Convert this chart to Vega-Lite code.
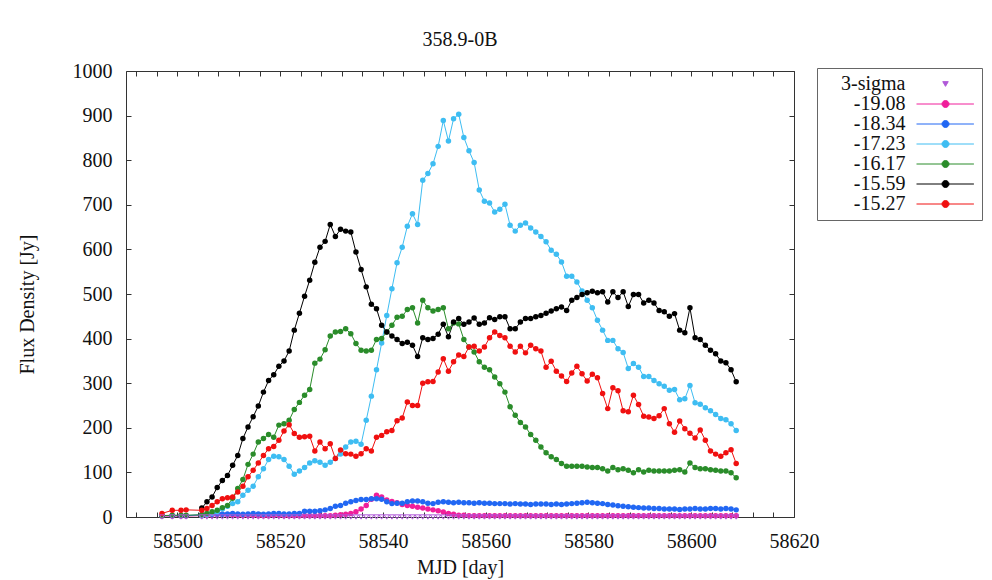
{
"$schema":"https://vega.github.io/schema/vega-lite/v6.json",
"width":668,"height":446,
"autosize":{"type":"none"},
"padding":{"left":126,"top":71,"right":198,"bottom":63},
"background":"white",
"title":{"text":"358.9-0B","font":"Liberation Serif","fontSize":20,"fontWeight":"normal","color":"#111","offset":-9,"anchor":"middle","frame":"group","baseline":"bottom"},
"config":{
 "view":{"stroke":"#333","strokeWidth":1},
 "axis":{"labelFont":"Liberation Serif","titleFont":"Liberation Serif","labelFontSize":20,"titleFontSize":20,"titleFontWeight":"normal","labelColor":"#111","titleColor":"#111","grid":false,"domain":false,"tickColor":"#333","tickSize":-5,"tickWidth":1,"labelOverlap":false,"labelFlush":false}
},
"data":{"values":[
{"s":"3-sigma","x":58497,"y":0},{"s":"3-sigma","x":58499,"y":0},{"s":"3-sigma","x":58500.7,"y":0},{"s":"3-sigma","x":58501.7,"y":0},
{"s":"3-sigma","x":58504.75,"y":0},{"s":"3-sigma","x":58505.75,"y":0},{"s":"3-sigma","x":58506.75,"y":0},{"s":"3-sigma","x":58507.75,"y":0},{"s":"3-sigma","x":58508.75,"y":0},{"s":"3-sigma","x":58509.75,"y":0},{"s":"3-sigma","x":58510.75,"y":0},{"s":"3-sigma","x":58511.75,"y":0},{"s":"3-sigma","x":58512.75,"y":0},{"s":"3-sigma","x":58513.75,"y":0},
{"s":"3-sigma","x":58514.75,"y":0},{"s":"3-sigma","x":58515.75,"y":0},{"s":"3-sigma","x":58516.75,"y":0},{"s":"3-sigma","x":58517.75,"y":0},{"s":"3-sigma","x":58518.75,"y":0},{"s":"3-sigma","x":58519.75,"y":0},{"s":"3-sigma","x":58520.75,"y":0},{"s":"3-sigma","x":58521.75,"y":0},{"s":"3-sigma","x":58522.75,"y":0},{"s":"3-sigma","x":58523.75,"y":0},
{"s":"3-sigma","x":58524.75,"y":0},{"s":"3-sigma","x":58525.75,"y":0},{"s":"3-sigma","x":58526.75,"y":0},{"s":"3-sigma","x":58527.75,"y":0},{"s":"3-sigma","x":58528.75,"y":0},{"s":"3-sigma","x":58529.75,"y":0},{"s":"3-sigma","x":58530.75,"y":0},{"s":"3-sigma","x":58531.75,"y":0},{"s":"3-sigma","x":58532.75,"y":0},{"s":"3-sigma","x":58533.75,"y":0},
{"s":"3-sigma","x":58534.75,"y":0},{"s":"3-sigma","x":58535.75,"y":0},{"s":"3-sigma","x":58536.75,"y":0},{"s":"3-sigma","x":58537.75,"y":0},{"s":"3-sigma","x":58538.75,"y":0},{"s":"3-sigma","x":58539.75,"y":0},{"s":"3-sigma","x":58540.75,"y":0},{"s":"3-sigma","x":58541.75,"y":0},{"s":"3-sigma","x":58542.75,"y":0},{"s":"3-sigma","x":58543.75,"y":0},
{"s":"3-sigma","x":58544.75,"y":0},{"s":"3-sigma","x":58545.75,"y":0},{"s":"3-sigma","x":58546.75,"y":0},{"s":"3-sigma","x":58547.75,"y":0},{"s":"3-sigma","x":58548.75,"y":0},{"s":"3-sigma","x":58549.75,"y":0},{"s":"3-sigma","x":58550.75,"y":0},{"s":"3-sigma","x":58551.75,"y":0},{"s":"3-sigma","x":58552.75,"y":0},{"s":"3-sigma","x":58553.75,"y":0},
{"s":"3-sigma","x":58554.75,"y":0},{"s":"3-sigma","x":58555.75,"y":0},{"s":"3-sigma","x":58556.75,"y":0},{"s":"3-sigma","x":58557.75,"y":0},{"s":"3-sigma","x":58558.75,"y":0},{"s":"3-sigma","x":58559.75,"y":0},{"s":"3-sigma","x":58560.75,"y":0},{"s":"3-sigma","x":58561.75,"y":0},{"s":"3-sigma","x":58562.75,"y":0},{"s":"3-sigma","x":58563.75,"y":0},
{"s":"3-sigma","x":58564.75,"y":0},{"s":"3-sigma","x":58565.75,"y":0},{"s":"3-sigma","x":58566.75,"y":0},{"s":"3-sigma","x":58567.75,"y":0},{"s":"3-sigma","x":58568.75,"y":0},{"s":"3-sigma","x":58569.75,"y":0},{"s":"3-sigma","x":58570.75,"y":0},{"s":"3-sigma","x":58571.75,"y":0},{"s":"3-sigma","x":58572.75,"y":0},{"s":"3-sigma","x":58573.75,"y":0},
{"s":"3-sigma","x":58574.75,"y":0},{"s":"3-sigma","x":58575.75,"y":0},{"s":"3-sigma","x":58576.75,"y":0},{"s":"3-sigma","x":58577.75,"y":0},{"s":"3-sigma","x":58578.75,"y":0},{"s":"3-sigma","x":58579.75,"y":0},{"s":"3-sigma","x":58580.75,"y":0},{"s":"3-sigma","x":58581.75,"y":0},{"s":"3-sigma","x":58582.75,"y":0},{"s":"3-sigma","x":58583.75,"y":0},
{"s":"3-sigma","x":58584.75,"y":0},{"s":"3-sigma","x":58585.75,"y":0},{"s":"3-sigma","x":58586.75,"y":0},{"s":"3-sigma","x":58587.75,"y":0},{"s":"3-sigma","x":58588.75,"y":0},{"s":"3-sigma","x":58589.75,"y":0},{"s":"3-sigma","x":58590.75,"y":0},{"s":"3-sigma","x":58591.75,"y":0},{"s":"3-sigma","x":58592.75,"y":0},{"s":"3-sigma","x":58593.75,"y":0},
{"s":"3-sigma","x":58594.75,"y":0},{"s":"3-sigma","x":58595.75,"y":0},{"s":"3-sigma","x":58596.75,"y":0},{"s":"3-sigma","x":58597.75,"y":0},{"s":"3-sigma","x":58598.75,"y":0},{"s":"3-sigma","x":58599.75,"y":0},{"s":"3-sigma","x":58600.75,"y":0},{"s":"3-sigma","x":58601.75,"y":0},{"s":"3-sigma","x":58602.75,"y":0},{"s":"3-sigma","x":58603.75,"y":0},
{"s":"3-sigma","x":58604.75,"y":0},{"s":"3-sigma","x":58605.75,"y":0},{"s":"3-sigma","x":58606.75,"y":0},{"s":"3-sigma","x":58607.75,"y":0},{"s":"3-sigma","x":58608.75,"y":0},

{"s":"-19.08","x":58497,"y":2},{"s":"-19.08","x":58499,"y":2},{"s":"-19.08","x":58500.7,"y":2},{"s":"-19.08","x":58501.7,"y":2},
{"s":"-19.08","x":58504.75,"y":3},{"s":"-19.08","x":58505.75,"y":4},{"s":"-19.08","x":58506.75,"y":5},{"s":"-19.08","x":58507.75,"y":6},{"s":"-19.08","x":58508.75,"y":6},{"s":"-19.08","x":58509.75,"y":5},{"s":"-19.08","x":58510.75,"y":5},{"s":"-19.08","x":58511.75,"y":4},{"s":"-19.08","x":58512.75,"y":4},{"s":"-19.08","x":58513.75,"y":4},
{"s":"-19.08","x":58514.75,"y":4},{"s":"-19.08","x":58515.75,"y":3},{"s":"-19.08","x":58516.75,"y":3},{"s":"-19.08","x":58517.75,"y":3},{"s":"-19.08","x":58518.75,"y":4},{"s":"-19.08","x":58519.75,"y":4},{"s":"-19.08","x":58520.75,"y":3},{"s":"-19.08","x":58521.75,"y":3},{"s":"-19.08","x":58522.75,"y":3},{"s":"-19.08","x":58523.75,"y":3},
{"s":"-19.08","x":58524.75,"y":3},{"s":"-19.08","x":58525.75,"y":3},{"s":"-19.08","x":58526.75,"y":3},{"s":"-19.08","x":58527.75,"y":3},{"s":"-19.08","x":58528.75,"y":3},{"s":"-19.08","x":58529.75,"y":3},{"s":"-19.08","x":58530.75,"y":4},{"s":"-19.08","x":58531.75,"y":5},{"s":"-19.08","x":58532.75,"y":6},{"s":"-19.08","x":58533.75,"y":8},
{"s":"-19.08","x":58534.75,"y":12},{"s":"-19.08","x":58535.75,"y":18},{"s":"-19.08","x":58536.75,"y":26},{"s":"-19.08","x":58537.75,"y":40},{"s":"-19.08","x":58538.75,"y":49},{"s":"-19.08","x":58539.75,"y":45},{"s":"-19.08","x":58540.75,"y":38},{"s":"-19.08","x":58541.75,"y":35},{"s":"-19.08","x":58542.75,"y":32},{"s":"-19.08","x":58543.75,"y":28},
{"s":"-19.08","x":58544.75,"y":26},{"s":"-19.08","x":58545.75,"y":24},{"s":"-19.08","x":58546.75,"y":22},{"s":"-19.08","x":58547.75,"y":20},{"s":"-19.08","x":58548.75,"y":18},{"s":"-19.08","x":58549.75,"y":16},{"s":"-19.08","x":58550.75,"y":14},{"s":"-19.08","x":58551.75,"y":11},{"s":"-19.08","x":58552.75,"y":8},{"s":"-19.08","x":58553.75,"y":6},
{"s":"-19.08","x":58554.75,"y":4},{"s":"-19.08","x":58555.75,"y":4},{"s":"-19.08","x":58556.75,"y":3},{"s":"-19.08","x":58557.75,"y":3},{"s":"-19.08","x":58558.75,"y":3},{"s":"-19.08","x":58559.75,"y":3},{"s":"-19.08","x":58560.75,"y":3},{"s":"-19.08","x":58561.75,"y":3},{"s":"-19.08","x":58562.75,"y":3},{"s":"-19.08","x":58563.75,"y":3},
{"s":"-19.08","x":58564.75,"y":3},{"s":"-19.08","x":58565.75,"y":3},{"s":"-19.08","x":58566.75,"y":3},{"s":"-19.08","x":58567.75,"y":3},{"s":"-19.08","x":58568.75,"y":3},{"s":"-19.08","x":58569.75,"y":3},{"s":"-19.08","x":58570.75,"y":3},{"s":"-19.08","x":58571.75,"y":3},{"s":"-19.08","x":58572.75,"y":3},{"s":"-19.08","x":58573.75,"y":3},
{"s":"-19.08","x":58574.75,"y":3},{"s":"-19.08","x":58575.75,"y":3},{"s":"-19.08","x":58576.75,"y":3},{"s":"-19.08","x":58577.75,"y":3},{"s":"-19.08","x":58578.75,"y":3},{"s":"-19.08","x":58579.75,"y":3},{"s":"-19.08","x":58580.75,"y":3},{"s":"-19.08","x":58581.75,"y":3},{"s":"-19.08","x":58582.75,"y":3},{"s":"-19.08","x":58583.75,"y":3},
{"s":"-19.08","x":58584.75,"y":3},{"s":"-19.08","x":58585.75,"y":3},{"s":"-19.08","x":58586.75,"y":3},{"s":"-19.08","x":58587.75,"y":3},{"s":"-19.08","x":58588.75,"y":3},{"s":"-19.08","x":58589.75,"y":3},{"s":"-19.08","x":58590.75,"y":3},{"s":"-19.08","x":58591.75,"y":3},{"s":"-19.08","x":58592.75,"y":3},{"s":"-19.08","x":58593.75,"y":3},
{"s":"-19.08","x":58594.75,"y":3},{"s":"-19.08","x":58595.75,"y":3},{"s":"-19.08","x":58596.75,"y":3},{"s":"-19.08","x":58597.75,"y":3},{"s":"-19.08","x":58598.75,"y":3},{"s":"-19.08","x":58599.75,"y":3},{"s":"-19.08","x":58600.75,"y":3},{"s":"-19.08","x":58601.75,"y":3},{"s":"-19.08","x":58602.75,"y":3},{"s":"-19.08","x":58603.75,"y":3},
{"s":"-19.08","x":58604.75,"y":3},{"s":"-19.08","x":58605.75,"y":3},{"s":"-19.08","x":58606.75,"y":3},{"s":"-19.08","x":58607.75,"y":3},{"s":"-19.08","x":58608.75,"y":3},

{"s":"-18.34","x":58497,"y":3},{"s":"-18.34","x":58499,"y":3},{"s":"-18.34","x":58500.7,"y":3},{"s":"-18.34","x":58501.7,"y":3},
{"s":"-18.34","x":58504.75,"y":5},{"s":"-18.34","x":58505.75,"y":6},{"s":"-18.34","x":58506.75,"y":6},{"s":"-18.34","x":58507.75,"y":7},{"s":"-18.34","x":58508.75,"y":6},{"s":"-18.34","x":58509.75,"y":7},{"s":"-18.34","x":58510.75,"y":8},{"s":"-18.34","x":58511.75,"y":7},{"s":"-18.34","x":58512.75,"y":6},{"s":"-18.34","x":58513.75,"y":7},
{"s":"-18.34","x":58514.75,"y":8},{"s":"-18.34","x":58515.75,"y":7},{"s":"-18.34","x":58516.75,"y":6},{"s":"-18.34","x":58517.75,"y":7},{"s":"-18.34","x":58518.75,"y":8},{"s":"-18.34","x":58519.75,"y":8},{"s":"-18.34","x":58520.75,"y":7},{"s":"-18.34","x":58521.75,"y":7},{"s":"-18.34","x":58522.75,"y":8},{"s":"-18.34","x":58523.75,"y":8},
{"s":"-18.34","x":58524.75,"y":13},{"s":"-18.34","x":58525.75,"y":13},{"s":"-18.34","x":58526.75,"y":13},{"s":"-18.34","x":58527.75,"y":14},{"s":"-18.34","x":58528.75,"y":16},{"s":"-18.34","x":58529.75,"y":19},{"s":"-18.34","x":58530.75,"y":24},{"s":"-18.34","x":58531.75,"y":26},{"s":"-18.34","x":58532.75,"y":31},{"s":"-18.34","x":58533.75,"y":34},
{"s":"-18.34","x":58534.75,"y":37},{"s":"-18.34","x":58535.75,"y":39},{"s":"-18.34","x":58536.75,"y":39},{"s":"-18.34","x":58537.75,"y":41},{"s":"-18.34","x":58538.75,"y":41},{"s":"-18.34","x":58539.75,"y":40},{"s":"-18.34","x":58540.75,"y":34},{"s":"-18.34","x":58541.75,"y":30},{"s":"-18.34","x":58542.75,"y":31},{"s":"-18.34","x":58543.75,"y":31},
{"s":"-18.34","x":58544.75,"y":34},{"s":"-18.34","x":58545.75,"y":36},{"s":"-18.34","x":58546.75,"y":36},{"s":"-18.34","x":58547.75,"y":34},{"s":"-18.34","x":58548.75,"y":31},{"s":"-18.34","x":58549.75,"y":30},{"s":"-18.34","x":58550.75,"y":33},{"s":"-18.34","x":58551.75,"y":34},{"s":"-18.34","x":58552.75,"y":33},{"s":"-18.34","x":58553.75,"y":32},
{"s":"-18.34","x":58554.75,"y":33},{"s":"-18.34","x":58555.75,"y":32},{"s":"-18.34","x":58556.75,"y":32},{"s":"-18.34","x":58557.75,"y":31},{"s":"-18.34","x":58558.75,"y":32},{"s":"-18.34","x":58559.75,"y":31},{"s":"-18.34","x":58560.75,"y":31},{"s":"-18.34","x":58561.75,"y":30},{"s":"-18.34","x":58562.75,"y":30},{"s":"-18.34","x":58563.75,"y":30},
{"s":"-18.34","x":58564.75,"y":29},{"s":"-18.34","x":58565.75,"y":30},{"s":"-18.34","x":58566.75,"y":29},{"s":"-18.34","x":58567.75,"y":29},{"s":"-18.34","x":58568.75,"y":28},{"s":"-18.34","x":58569.75,"y":29},{"s":"-18.34","x":58570.75,"y":29},{"s":"-18.34","x":58571.75,"y":29},{"s":"-18.34","x":58572.75,"y":28},{"s":"-18.34","x":58573.75,"y":29},
{"s":"-18.34","x":58574.75,"y":28},{"s":"-18.34","x":58575.75,"y":29},{"s":"-18.34","x":58576.75,"y":30},{"s":"-18.34","x":58577.75,"y":31},{"s":"-18.34","x":58578.75,"y":32},{"s":"-18.34","x":58579.75,"y":33},{"s":"-18.34","x":58580.75,"y":32},{"s":"-18.34","x":58581.75,"y":31},{"s":"-18.34","x":58582.75,"y":30},{"s":"-18.34","x":58583.75,"y":28},
{"s":"-18.34","x":58584.75,"y":27},{"s":"-18.34","x":58585.75,"y":25},{"s":"-18.34","x":58586.75,"y":24},{"s":"-18.34","x":58587.75,"y":23},{"s":"-18.34","x":58588.75,"y":22},{"s":"-18.34","x":58589.75,"y":21},{"s":"-18.34","x":58590.75,"y":20},{"s":"-18.34","x":58591.75,"y":20},{"s":"-18.34","x":58592.75,"y":19},{"s":"-18.34","x":58593.75,"y":19},
{"s":"-18.34","x":58594.75,"y":18},{"s":"-18.34","x":58595.75,"y":18},{"s":"-18.34","x":58596.75,"y":18},{"s":"-18.34","x":58597.75,"y":17},{"s":"-18.34","x":58598.75,"y":18},{"s":"-18.34","x":58599.75,"y":18},{"s":"-18.34","x":58600.75,"y":19},{"s":"-18.34","x":58601.75,"y":18},{"s":"-18.34","x":58602.75,"y":18},{"s":"-18.34","x":58603.75,"y":19},
{"s":"-18.34","x":58604.75,"y":19},{"s":"-18.34","x":58605.75,"y":18},{"s":"-18.34","x":58606.75,"y":19},{"s":"-18.34","x":58607.75,"y":18},{"s":"-18.34","x":58608.75,"y":16},

{"s":"-17.23","x":58504.75,"y":3},{"s":"-17.23","x":58505.75,"y":5},{"s":"-17.23","x":58506.75,"y":8},{"s":"-17.23","x":58507.75,"y":12},{"s":"-17.23","x":58508.75,"y":18},{"s":"-17.23","x":58509.75,"y":24},{"s":"-17.23","x":58510.75,"y":30},{"s":"-17.23","x":58511.75,"y":34},{"s":"-17.23","x":58512.75,"y":49},{"s":"-17.23","x":58513.75,"y":60},
{"s":"-17.23","x":58514.75,"y":69},{"s":"-17.23","x":58515.75,"y":90},{"s":"-17.23","x":58516.75,"y":108},{"s":"-17.23","x":58517.75,"y":129},{"s":"-17.23","x":58518.75,"y":136},{"s":"-17.23","x":58519.75,"y":135},{"s":"-17.23","x":58520.75,"y":129},{"s":"-17.23","x":58521.75,"y":114},{"s":"-17.23","x":58522.75,"y":96},{"s":"-17.23","x":58523.75,"y":103},
{"s":"-17.23","x":58524.75,"y":111},{"s":"-17.23","x":58525.75,"y":121},{"s":"-17.23","x":58526.75,"y":126},{"s":"-17.23","x":58527.75,"y":123},{"s":"-17.23","x":58528.75,"y":116},{"s":"-17.23","x":58529.75,"y":123},{"s":"-17.23","x":58530.75,"y":131},{"s":"-17.23","x":58531.75,"y":141},{"s":"-17.23","x":58532.75,"y":157},{"s":"-17.23","x":58533.75,"y":168},
{"s":"-17.23","x":58534.75,"y":170},{"s":"-17.23","x":58535.75,"y":163},{"s":"-17.23","x":58536.75,"y":217},{"s":"-17.23","x":58537.75,"y":271},{"s":"-17.23","x":58538.75,"y":330},{"s":"-17.23","x":58539.75,"y":390},{"s":"-17.23","x":58540.75,"y":452},{"s":"-17.23","x":58541.75,"y":512},{"s":"-17.23","x":58542.75,"y":570},{"s":"-17.23","x":58543.75,"y":605},
{"s":"-17.23","x":58544.75,"y":652},{"s":"-17.23","x":58545.75,"y":680},{"s":"-17.23","x":58546.75,"y":656},{"s":"-17.23","x":58547.75,"y":755},{"s":"-17.23","x":58548.75,"y":770},{"s":"-17.23","x":58549.75,"y":792},{"s":"-17.23","x":58550.75,"y":831},{"s":"-17.23","x":58551.75,"y":889},{"s":"-17.23","x":58552.75,"y":843},{"s":"-17.23","x":58553.75,"y":893},
{"s":"-17.23","x":58554.75,"y":903},{"s":"-17.23","x":58555.75,"y":851},{"s":"-17.23","x":58556.75,"y":821},{"s":"-17.23","x":58557.75,"y":795},{"s":"-17.23","x":58558.75,"y":733},{"s":"-17.23","x":58559.75,"y":708},{"s":"-17.23","x":58560.75,"y":704},{"s":"-17.23","x":58561.75,"y":684},{"s":"-17.23","x":58562.75,"y":690},{"s":"-17.23","x":58563.75,"y":701},
{"s":"-17.23","x":58564.75,"y":654},{"s":"-17.23","x":58565.75,"y":641},{"s":"-17.23","x":58566.75,"y":654},{"s":"-17.23","x":58567.75,"y":659},{"s":"-17.23","x":58568.75,"y":648},{"s":"-17.23","x":58569.75,"y":639},{"s":"-17.23","x":58570.75,"y":629},{"s":"-17.23","x":58571.75,"y":617},{"s":"-17.23","x":58572.75,"y":598},{"s":"-17.23","x":58573.75,"y":589},
{"s":"-17.23","x":58574.75,"y":572},{"s":"-17.23","x":58575.75,"y":540},{"s":"-17.23","x":58576.75,"y":540},{"s":"-17.23","x":58577.75,"y":527},{"s":"-17.23","x":58578.75,"y":507},{"s":"-17.23","x":58579.75,"y":486},{"s":"-17.23","x":58580.75,"y":469},{"s":"-17.23","x":58581.75,"y":441},{"s":"-17.23","x":58582.75,"y":419},{"s":"-17.23","x":58583.75,"y":396},
{"s":"-17.23","x":58584.75,"y":396},{"s":"-17.23","x":58585.75,"y":377},{"s":"-17.23","x":58586.75,"y":369},{"s":"-17.23","x":58587.75,"y":333},{"s":"-17.23","x":58588.75,"y":344},{"s":"-17.23","x":58589.75,"y":336},{"s":"-17.23","x":58590.75,"y":315},{"s":"-17.23","x":58591.75,"y":315},{"s":"-17.23","x":58592.75,"y":306},{"s":"-17.23","x":58593.75,"y":299},
{"s":"-17.23","x":58594.75,"y":293},{"s":"-17.23","x":58595.75,"y":284},{"s":"-17.23","x":58596.75,"y":286},{"s":"-17.23","x":58597.75,"y":263},{"s":"-17.23","x":58598.75,"y":265},{"s":"-17.23","x":58599.75,"y":295},{"s":"-17.23","x":58600.75,"y":256},{"s":"-17.23","x":58601.75,"y":253},{"s":"-17.23","x":58602.75,"y":245},{"s":"-17.23","x":58603.75,"y":238},
{"s":"-17.23","x":58604.75,"y":230},{"s":"-17.23","x":58605.75,"y":221},{"s":"-17.23","x":58606.75,"y":218},{"s":"-17.23","x":58607.75,"y":209},{"s":"-17.23","x":58608.75,"y":194},

{"s":"-16.17","x":58497,"y":3},{"s":"-16.17","x":58499,"y":4},{"s":"-16.17","x":58500.7,"y":4},{"s":"-16.17","x":58501.7,"y":4},
{"s":"-16.17","x":58504.75,"y":5},{"s":"-16.17","x":58505.75,"y":8},{"s":"-16.17","x":58506.75,"y":12},{"s":"-16.17","x":58507.75,"y":15},{"s":"-16.17","x":58508.75,"y":21},{"s":"-16.17","x":58509.75,"y":26},{"s":"-16.17","x":58510.75,"y":42},{"s":"-16.17","x":58511.75,"y":64},{"s":"-16.17","x":58512.75,"y":84},{"s":"-16.17","x":58513.75,"y":118},
{"s":"-16.17","x":58514.75,"y":141},{"s":"-16.17","x":58515.75,"y":168},{"s":"-16.17","x":58516.75,"y":176},{"s":"-16.17","x":58517.75,"y":185},{"s":"-16.17","x":58518.75,"y":179},{"s":"-16.17","x":58519.75,"y":206},{"s":"-16.17","x":58520.75,"y":209},{"s":"-16.17","x":58521.75,"y":217},{"s":"-16.17","x":58522.75,"y":241},{"s":"-16.17","x":58523.75,"y":257},
{"s":"-16.17","x":58524.75,"y":273},{"s":"-16.17","x":58525.75,"y":286},{"s":"-16.17","x":58526.75,"y":345},{"s":"-16.17","x":58527.75,"y":354},{"s":"-16.17","x":58528.75,"y":375},{"s":"-16.17","x":58529.75,"y":406},{"s":"-16.17","x":58530.75,"y":415},{"s":"-16.17","x":58531.75,"y":416},{"s":"-16.17","x":58532.75,"y":422},{"s":"-16.17","x":58533.75,"y":411},
{"s":"-16.17","x":58534.75,"y":389},{"s":"-16.17","x":58535.75,"y":374},{"s":"-16.17","x":58536.75,"y":372},{"s":"-16.17","x":58537.75,"y":374},{"s":"-16.17","x":58538.75,"y":398},{"s":"-16.17","x":58539.75,"y":400},{"s":"-16.17","x":58540.75,"y":415},{"s":"-16.17","x":58541.75,"y":430},{"s":"-16.17","x":58542.75,"y":448},{"s":"-16.17","x":58543.75,"y":450},
{"s":"-16.17","x":58544.75,"y":465},{"s":"-16.17","x":58545.75,"y":469},{"s":"-16.17","x":58546.75,"y":435},{"s":"-16.17","x":58547.75,"y":486},{"s":"-16.17","x":58548.75,"y":469},{"s":"-16.17","x":58549.75,"y":462},{"s":"-16.17","x":58550.75,"y":465},{"s":"-16.17","x":58551.75,"y":469},{"s":"-16.17","x":58552.75,"y":422},{"s":"-16.17","x":58553.75,"y":435},
{"s":"-16.17","x":58554.75,"y":433},{"s":"-16.17","x":58555.75,"y":398},{"s":"-16.17","x":58556.75,"y":381},{"s":"-16.17","x":58557.75,"y":370},{"s":"-16.17","x":58558.75,"y":348},{"s":"-16.17","x":58559.75,"y":336},{"s":"-16.17","x":58560.75,"y":330},{"s":"-16.17","x":58561.75,"y":314},{"s":"-16.17","x":58562.75,"y":299},{"s":"-16.17","x":58563.75,"y":280},
{"s":"-16.17","x":58564.75,"y":247},{"s":"-16.17","x":58565.75,"y":228},{"s":"-16.17","x":58566.75,"y":212},{"s":"-16.17","x":58567.75,"y":202},{"s":"-16.17","x":58568.75,"y":185},{"s":"-16.17","x":58569.75,"y":172},{"s":"-16.17","x":58570.75,"y":157},{"s":"-16.17","x":58571.75,"y":144},{"s":"-16.17","x":58572.75,"y":135},{"s":"-16.17","x":58573.75,"y":129},
{"s":"-16.17","x":58574.75,"y":120},{"s":"-16.17","x":58575.75,"y":114},{"s":"-16.17","x":58576.75,"y":114},{"s":"-16.17","x":58577.75,"y":114},{"s":"-16.17","x":58578.75,"y":114},{"s":"-16.17","x":58579.75,"y":112},{"s":"-16.17","x":58580.75,"y":111},{"s":"-16.17","x":58581.75,"y":111},{"s":"-16.17","x":58582.75,"y":108},{"s":"-16.17","x":58583.75,"y":103},
{"s":"-16.17","x":58584.75,"y":111},{"s":"-16.17","x":58585.75,"y":106},{"s":"-16.17","x":58586.75,"y":108},{"s":"-16.17","x":58587.75,"y":105},{"s":"-16.17","x":58588.75,"y":99},{"s":"-16.17","x":58589.75,"y":106},{"s":"-16.17","x":58590.75,"y":101},{"s":"-16.17","x":58591.75,"y":105},{"s":"-16.17","x":58592.75,"y":103},{"s":"-16.17","x":58593.75,"y":103},
{"s":"-16.17","x":58594.75,"y":103},{"s":"-16.17","x":58595.75,"y":103},{"s":"-16.17","x":58596.75,"y":105},{"s":"-16.17","x":58597.75,"y":106},{"s":"-16.17","x":58598.75,"y":101},{"s":"-16.17","x":58599.75,"y":121},{"s":"-16.17","x":58600.75,"y":111},{"s":"-16.17","x":58601.75,"y":108},{"s":"-16.17","x":58602.75,"y":108},{"s":"-16.17","x":58603.75,"y":106},
{"s":"-16.17","x":58604.75,"y":105},{"s":"-16.17","x":58605.75,"y":103},{"s":"-16.17","x":58606.75,"y":103},{"s":"-16.17","x":58607.75,"y":99},{"s":"-16.17","x":58608.75,"y":88},

{"s":"-15.59","x":58504.75,"y":20},{"s":"-15.59","x":58505.75,"y":34},{"s":"-15.59","x":58506.75,"y":45},{"s":"-15.59","x":58507.75,"y":66},{"s":"-15.59","x":58508.75,"y":82},{"s":"-15.59","x":58509.75,"y":93},{"s":"-15.59","x":58510.75,"y":116},{"s":"-15.59","x":58511.75,"y":138},{"s":"-15.59","x":58512.75,"y":176},{"s":"-15.59","x":58513.75,"y":202},
{"s":"-15.59","x":58514.75,"y":225},{"s":"-15.59","x":58515.75,"y":249},{"s":"-15.59","x":58516.75,"y":280},{"s":"-15.59","x":58517.75,"y":306},{"s":"-15.59","x":58518.75,"y":319},{"s":"-15.59","x":58519.75,"y":338},{"s":"-15.59","x":58520.75,"y":350},{"s":"-15.59","x":58521.75,"y":372},{"s":"-15.59","x":58522.75,"y":419},{"s":"-15.59","x":58523.75,"y":457},
{"s":"-15.59","x":58524.75,"y":495},{"s":"-15.59","x":58525.75,"y":531},{"s":"-15.59","x":58526.75,"y":571},{"s":"-15.59","x":58527.75,"y":605},{"s":"-15.59","x":58528.75,"y":618},{"s":"-15.59","x":58529.75,"y":656},{"s":"-15.59","x":58530.75,"y":629},{"s":"-15.59","x":58531.75,"y":645},{"s":"-15.59","x":58532.75,"y":641},{"s":"-15.59","x":58533.75,"y":639},
{"s":"-15.59","x":58534.75,"y":594},{"s":"-15.59","x":58535.75,"y":555},{"s":"-15.59","x":58536.75,"y":516},{"s":"-15.59","x":58537.75,"y":477},{"s":"-15.59","x":58538.75,"y":467},{"s":"-15.59","x":58539.75,"y":430},{"s":"-15.59","x":58540.75,"y":415},{"s":"-15.59","x":58541.75,"y":406},{"s":"-15.59","x":58542.75,"y":398},{"s":"-15.59","x":58543.75,"y":389},
{"s":"-15.59","x":58544.75,"y":392},{"s":"-15.59","x":58545.75,"y":385},{"s":"-15.59","x":58546.75,"y":360},{"s":"-15.59","x":58547.75,"y":402},{"s":"-15.59","x":58548.75,"y":398},{"s":"-15.59","x":58549.75,"y":400},{"s":"-15.59","x":58550.75,"y":410},{"s":"-15.59","x":58551.75,"y":432},{"s":"-15.59","x":58552.75,"y":404},{"s":"-15.59","x":58553.75,"y":437},
{"s":"-15.59","x":58554.75,"y":445},{"s":"-15.59","x":58555.75,"y":432},{"s":"-15.59","x":58556.75,"y":437},{"s":"-15.59","x":58557.75,"y":446},{"s":"-15.59","x":58558.75,"y":432},{"s":"-15.59","x":58559.75,"y":435},{"s":"-15.59","x":58560.75,"y":447},{"s":"-15.59","x":58561.75,"y":443},{"s":"-15.59","x":58562.75,"y":449},{"s":"-15.59","x":58563.75,"y":449},
{"s":"-15.59","x":58564.75,"y":422},{"s":"-15.59","x":58565.75,"y":422},{"s":"-15.59","x":58566.75,"y":437},{"s":"-15.59","x":58567.75,"y":445},{"s":"-15.59","x":58568.75,"y":445},{"s":"-15.59","x":58569.75,"y":449},{"s":"-15.59","x":58570.75,"y":452},{"s":"-15.59","x":58571.75,"y":457},{"s":"-15.59","x":58572.75,"y":462},{"s":"-15.59","x":58573.75,"y":467},
{"s":"-15.59","x":58574.75,"y":471},{"s":"-15.59","x":58575.75,"y":463},{"s":"-15.59","x":58576.75,"y":486},{"s":"-15.59","x":58577.75,"y":492},{"s":"-15.59","x":58578.75,"y":499},{"s":"-15.59","x":58579.75,"y":503},{"s":"-15.59","x":58580.75,"y":506},{"s":"-15.59","x":58581.75,"y":503},{"s":"-15.59","x":58582.75,"y":505},{"s":"-15.59","x":58583.75,"y":482},
{"s":"-15.59","x":58584.75,"y":505},{"s":"-15.59","x":58585.75,"y":492},{"s":"-15.59","x":58586.75,"y":505},{"s":"-15.59","x":58587.75,"y":472},{"s":"-15.59","x":58588.75,"y":499},{"s":"-15.59","x":58589.75,"y":499},{"s":"-15.59","x":58590.75,"y":480},{"s":"-15.59","x":58591.75,"y":486},{"s":"-15.59","x":58592.75,"y":480},{"s":"-15.59","x":58593.75,"y":463},
{"s":"-15.59","x":58594.75,"y":460},{"s":"-15.59","x":58595.75,"y":450},{"s":"-15.59","x":58596.75,"y":456},{"s":"-15.59","x":58597.75,"y":419},{"s":"-15.59","x":58598.75,"y":413},{"s":"-15.59","x":58599.75,"y":469},{"s":"-15.59","x":58600.75,"y":402},{"s":"-15.59","x":58601.75,"y":398},{"s":"-15.59","x":58602.75,"y":385},{"s":"-15.59","x":58603.75,"y":374},
{"s":"-15.59","x":58604.75,"y":366},{"s":"-15.59","x":58605.75,"y":350},{"s":"-15.59","x":58606.75,"y":346},{"s":"-15.59","x":58607.75,"y":330},{"s":"-15.59","x":58608.75,"y":303},

{"s":"-15.27","x":58497,"y":8},{"s":"-15.27","x":58499,"y":15},{"s":"-15.27","x":58500.7,"y":15},{"s":"-15.27","x":58501.7,"y":16},
{"s":"-15.27","x":58504.75,"y":15},{"s":"-15.27","x":58505.75,"y":19},{"s":"-15.27","x":58506.75,"y":26},{"s":"-15.27","x":58507.75,"y":34},{"s":"-15.27","x":58508.75,"y":41},{"s":"-15.27","x":58509.75,"y":43},{"s":"-15.27","x":58510.75,"y":45},{"s":"-15.27","x":58511.75,"y":56},{"s":"-15.27","x":58512.75,"y":69},{"s":"-15.27","x":58513.75,"y":90},
{"s":"-15.27","x":58514.75,"y":105},{"s":"-15.27","x":58515.75,"y":121},{"s":"-15.27","x":58516.75,"y":138},{"s":"-15.27","x":58517.75,"y":153},{"s":"-15.27","x":58518.75,"y":158},{"s":"-15.27","x":58519.75,"y":172},{"s":"-15.27","x":58520.75,"y":193},{"s":"-15.27","x":58521.75,"y":207},{"s":"-15.27","x":58522.75,"y":187},{"s":"-15.27","x":58523.75,"y":179},
{"s":"-15.27","x":58524.75,"y":180},{"s":"-15.27","x":58525.75,"y":181},{"s":"-15.27","x":58526.75,"y":148},{"s":"-15.27","x":58527.75,"y":168},{"s":"-15.27","x":58528.75,"y":153},{"s":"-15.27","x":58529.75,"y":164},{"s":"-15.27","x":58530.75,"y":131},{"s":"-15.27","x":58531.75,"y":150},{"s":"-15.27","x":58532.75,"y":142},{"s":"-15.27","x":58533.75,"y":141},
{"s":"-15.27","x":58534.75,"y":136},{"s":"-15.27","x":58535.75,"y":142},{"s":"-15.27","x":58536.75,"y":153},{"s":"-15.27","x":58537.75,"y":148},{"s":"-15.27","x":58538.75,"y":179},{"s":"-15.27","x":58539.75,"y":183},{"s":"-15.27","x":58540.75,"y":191},{"s":"-15.27","x":58541.75,"y":194},{"s":"-15.27","x":58542.75,"y":216},{"s":"-15.27","x":58543.75,"y":222},
{"s":"-15.27","x":58544.75,"y":258},{"s":"-15.27","x":58545.75,"y":250},{"s":"-15.27","x":58546.75,"y":250},{"s":"-15.27","x":58547.75,"y":300},{"s":"-15.27","x":58548.75,"y":303},{"s":"-15.27","x":58549.75,"y":304},{"s":"-15.27","x":58550.75,"y":325},{"s":"-15.27","x":58551.75,"y":355},{"s":"-15.27","x":58552.75,"y":327},{"s":"-15.27","x":58553.75,"y":348},
{"s":"-15.27","x":58554.75,"y":363},{"s":"-15.27","x":58555.75,"y":360},{"s":"-15.27","x":58556.75,"y":381},{"s":"-15.27","x":58557.75,"y":383},{"s":"-15.27","x":58558.75,"y":372},{"s":"-15.27","x":58559.75,"y":381},{"s":"-15.27","x":58560.75,"y":402},{"s":"-15.27","x":58561.75,"y":415},{"s":"-15.27","x":58562.75,"y":407},{"s":"-15.27","x":58563.75,"y":402},
{"s":"-15.27","x":58564.75,"y":383},{"s":"-15.27","x":58565.75,"y":370},{"s":"-15.27","x":58566.75,"y":383},{"s":"-15.27","x":58567.75,"y":368},{"s":"-15.27","x":58568.75,"y":385},{"s":"-15.27","x":58569.75,"y":377},{"s":"-15.27","x":58570.75,"y":372},{"s":"-15.27","x":58571.75,"y":336},{"s":"-15.27","x":58572.75,"y":349},{"s":"-15.27","x":58573.75,"y":327},
{"s":"-15.27","x":58574.75,"y":316},{"s":"-15.27","x":58575.75,"y":304},{"s":"-15.27","x":58576.75,"y":323},{"s":"-15.27","x":58577.75,"y":338},{"s":"-15.27","x":58578.75,"y":321},{"s":"-15.27","x":58579.75,"y":305},{"s":"-15.27","x":58580.75,"y":320},{"s":"-15.27","x":58581.75,"y":312},{"s":"-15.27","x":58582.75,"y":277},{"s":"-15.27","x":58583.75,"y":243},
{"s":"-15.27","x":58584.75,"y":290},{"s":"-15.27","x":58585.75,"y":283},{"s":"-15.27","x":58586.75,"y":238},{"s":"-15.27","x":58587.75,"y":236},{"s":"-15.27","x":58588.75,"y":273},{"s":"-15.27","x":58589.75,"y":252},{"s":"-15.27","x":58590.75,"y":226},{"s":"-15.27","x":58591.75,"y":224},{"s":"-15.27","x":58592.75,"y":221},{"s":"-15.27","x":58593.75,"y":227},
{"s":"-15.27","x":58594.75,"y":243},{"s":"-15.27","x":58595.75,"y":209},{"s":"-15.27","x":58596.75,"y":190},{"s":"-15.27","x":58597.75,"y":215},{"s":"-15.27","x":58598.75,"y":198},{"s":"-15.27","x":58599.75,"y":188},{"s":"-15.27","x":58600.75,"y":177},{"s":"-15.27","x":58601.75,"y":195},{"s":"-15.27","x":58602.75,"y":172},{"s":"-15.27","x":58603.75,"y":148},
{"s":"-15.27","x":58604.75,"y":141},{"s":"-15.27","x":58605.75,"y":136},{"s":"-15.27","x":58606.75,"y":144},{"s":"-15.27","x":58607.75,"y":151},{"s":"-15.27","x":58608.75,"y":120}
]},
"layer":[
 {"transform":[{"filter":"datum.s !== '3-sigma'"}],
  "mark":{"type":"line","strokeWidth":1},
  "encoding":{
   "x":{"field":"x","type":"quantitative","scale":{"domain":[58490,58620],"nice":false,"zero":false},
        "axis":{"orient":"bottom","values":[58492,58496,58500,58504,58508,58512,58516,58520,58524,58528,58532,58536,58540,58544,58548,58552,58556,58560,58564,58568,58572,58576,58580,58584,58588,58592,58596,58600,58604,58608,58612,58616,58620],"format":"d","labelExpr":"datum.value % 20 === 0 ? datum.label : ''","labelPadding":19,"title":"MJD [day]","titleY":40,"titleBaseline":"top"}},
   "y":{"field":"y","type":"quantitative","scale":{"domain":[0,1000],"nice":false,"zero":false},
        "axis":{"orient":"left","values":[0,100,200,300,400,500,600,700,800,900,1000],"format":"d","labelPadding":19,"title":"Flux Density [Jy]","titleX":-89,"titleY":233,"titleBaseline":"bottom"}},
   "color":{"field":"s","type":"nominal",
     "scale":{"domain":["3-sigma","-19.08","-18.34","-17.23","-16.17","-15.59","-15.27"],"range":["#b05ad8","#f01e9b","#2167f3","#3ebdf2","#2a8c2a","#000000","#f01010"]},
     "legend":{"title":null,"orient":"none","legendX":691,"legendY":-3,"padding":6,"strokeColor":"#666","fillColor":"white",
       "labelFont":"Liberation Serif","labelFontSize":20,"labelColor":"#111","labelAlign":"right","labelOffset":-50,"labelLimit":300,
       "symbolOffset":112.5,"symbolSize":64,"symbolStrokeWidth":1,"rowPadding":0,
       "encode":{"symbols":{"update":{
         "shape":{"signal":"datum.value === '3-sigma' ? 'triangle-down' : 'M-7.25,0H7.1M0.875,0A0.875,0.875,0,1,1,-0.875,0A0.875,0.875,0,1,1,0.875,0Z'"},
         "size":{"signal":"datum.value === '3-sigma' ? 30 : 64"},
         "fill":{"signal":"datum.value === '3-sigma' ? '#dcaef0' : scale('color', datum.value)"},
         "stroke":{"signal":"scale('color', datum.value)"},
         "strokeWidth":{"value":1},
         "opacity":{"value":1}}}}}}
  }},
 {"transform":[{"filter":"datum.s !== '3-sigma'"}],
  "mark":{"type":"point","filled":true,"shape":"circle","size":30,"opacity":1},
  "encoding":{
   "x":{"field":"x","type":"quantitative","axis":{"orient":"top","values":[58492,58496,58500,58504,58508,58512,58516,58520,58524,58528,58532,58536,58540,58544,58548,58552,58556,58560,58564,58568,58572,58576,58580,58584,58588,58592,58596,58600,58604,58608,58612,58616,58620],"labels":false,"title":null}},
   "y":{"field":"y","type":"quantitative","axis":{"orient":"right","values":[0,100,200,300,400,500,600,700,800,900,1000],"labels":false,"title":null}},
   "color":{"field":"s","type":"nominal"}
  }},
 {"transform":[{"filter":"datum.s === '3-sigma'"}],
  "mark":{"type":"point","filled":false,"shape":"triangle-down","size":25,"strokeWidth":1,"opacity":1},
  "encoding":{
   "x":{"field":"x","type":"quantitative","axis":null},
   "y":{"field":"y","type":"quantitative","axis":null},
   "color":{"field":"s","type":"nominal"}
  }}
]
}
